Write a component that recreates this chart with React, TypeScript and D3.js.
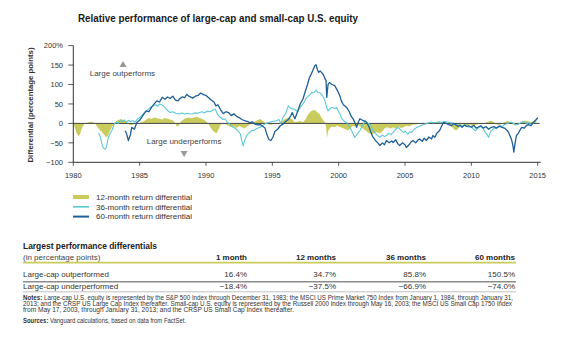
import React from 'react';
import * as d3 from 'd3';

// ---- Data (decimal year, percentage points) ----
const diff12: [number, number][] = [
  [1980.0, 0], [1980.1, -10], [1980.25, -25], [1980.4, -33], [1980.5, -28], [1980.65, -12], [1980.8, -3], [1980.9, 0],
  [1981.1, 2], [1981.3, 4], [1981.5, 3], [1981.65, 0], [1981.8, -8], [1981.95, -15], [1982.1, -20], [1982.3, -28],
  [1982.45, -35], [1982.6, -33], [1982.75, -20], [1982.9, -10], [1983.05, -3], [1983.2, 5], [1983.4, 9], [1983.6, 11],
  [1983.8, 8], [1984.0, 6], [1984.15, -2], [1984.35, -5], [1984.55, -2], [1984.75, 2], [1984.9, 0], [1985.1, 3],
  [1985.3, 5], [1985.5, 10], [1985.7, 14], [1985.9, 12], [1986.1, 15], [1986.3, 13], [1986.5, 12], [1986.7, 10],
  [1986.9, 14], [1987.1, 12], [1987.3, 10], [1987.5, 8], [1987.65, 2], [1987.8, -8], [1987.95, -6], [1988.1, 5],
  [1988.3, 10], [1988.5, 14], [1988.7, 15], [1988.9, 13], [1989.1, 16], [1989.3, 17], [1989.5, 14], [1989.7, 12],
  [1989.9, 8], [1990.1, 2], [1990.3, -8], [1990.5, -18], [1990.65, -23], [1990.8, -25], [1990.95, -15], [1991.1, -4],
  [1991.3, 2], [1991.5, -3], [1991.7, -6], [1991.9, -10], [1992.1, -8], [1992.3, -12], [1992.5, -7], [1992.7, -10],
  [1992.9, -13], [1993.1, -8], [1993.3, -3], [1993.5, 0], [1993.7, 5], [1993.9, 9], [1994.1, 11], [1994.3, 6],
  [1994.5, 0], [1994.7, -2], [1994.9, -4], [1995.1, 0], [1995.3, -3], [1995.5, 1], [1995.7, 4], [1995.9, 10],
  [1996.1, 13], [1996.3, 15], [1996.5, 10], [1996.7, 3], [1996.9, 5], [1997.1, 6], [1997.3, 3], [1997.5, 10],
  [1997.65, 20], [1997.8, 27], [1997.95, 32], [1998.1, 34.7], [1998.25, 33], [1998.4, 28], [1998.55, 25], [1998.7, 15],
  [1998.85, 8], [1998.97, 2], [1999.05, -10], [1999.12, -37.5], [1999.2, -20], [1999.35, -12], [1999.5, -8], [1999.7, -10],
  [1999.9, -6], [2000.1, -9], [2000.3, -12], [2000.5, -15], [2000.7, -18], [2000.9, -12], [2001.1, -6], [2001.3, -8],
  [2001.5, -4], [2001.7, -10], [2001.9, -15], [2002.1, -20], [2002.3, -25], [2002.5, -28], [2002.7, -25], [2002.9, -22],
  [2003.1, -26], [2003.3, -20], [2003.5, -12], [2003.7, -10], [2003.9, -14], [2004.1, -10], [2004.3, -13], [2004.5, -8],
  [2004.7, -12], [2004.9, -10], [2005.1, -6], [2005.3, -8], [2005.5, -5], [2005.7, -3], [2005.9, -2], [2006.1, 0],
  [2006.3, -2], [2006.5, -1], [2006.7, 2], [2006.9, 0], [2007.1, 2], [2007.3, 3], [2007.5, 4], [2007.7, 2],
  [2007.9, 3], [2008.1, 0], [2008.3, -3], [2008.5, -8], [2008.7, -15], [2008.85, -18], [2009.0, -14], [2009.15, -6],
  [2009.3, -2], [2009.5, -4], [2009.7, -6], [2009.9, -3], [2010.1, -8], [2010.3, -4], [2010.5, -2], [2010.7, 0],
  [2010.9, -3], [2011.1, 2], [2011.3, 5], [2011.5, 7], [2011.7, 3], [2011.9, -2], [2012.1, -5], [2012.3, 0],
  [2012.5, 3], [2012.7, 6], [2012.9, 4], [2013.1, -2], [2013.3, -5], [2013.5, -3], [2013.7, 2], [2013.9, 6],
  [2014.1, 7], [2014.3, 5], [2014.5, 3], [2014.7, 6], [2014.9, 4],
];

const diff36: [number, number][] = [
  [1981.9, -25], [1982.0, -31], [1982.1, -45], [1982.2, -58], [1982.3, -64], [1982.4, -66.9], [1982.5, -60], [1982.64, -36],
  [1982.75, -28], [1982.9, -19], [1983.0, -10], [1983.1, -1], [1983.25, 3], [1983.4, 0], [1983.5, 7], [1983.7, 5],
  [1983.85, 9], [1984.0, 3], [1984.15, 8], [1984.3, 5], [1984.5, 7], [1984.65, 3], [1984.8, 10], [1985.0, 15],
  [1985.2, 22], [1985.35, 28], [1985.5, 32], [1985.7, 38], [1985.85, 42], [1986.0, 45], [1986.2, 48], [1986.35, 44],
  [1986.5, 50], [1986.7, 47], [1986.9, 41], [1987.1, 33], [1987.3, 28], [1987.5, 30], [1987.7, 26], [1987.85, 25],
  [1988.0, 24], [1988.2, 27], [1988.4, 24], [1988.55, 26], [1988.8, 24], [1989.0, 25], [1989.2, 27], [1989.4, 26],
  [1989.5, 28], [1989.7, 30], [1989.9, 27], [1990.1, 32], [1990.3, 30], [1990.5, 34], [1990.7, 37], [1990.85, 25],
  [1991.0, 18], [1991.1, 15], [1991.3, 10], [1991.45, 12], [1991.6, 3], [1991.8, -2], [1992.05, -10], [1992.25, -14],
  [1992.45, -20], [1992.6, -28], [1992.7, -45], [1992.8, -58], [1992.9, -45], [1993.07, -31], [1993.25, -25], [1993.4, -19],
  [1993.6, -18], [1993.8, -14], [1994.07, -10], [1994.3, -5], [1994.5, 0], [1994.8, 3], [1995.0, 5], [1995.3, 7],
  [1995.5, 10], [1995.65, 0], [1995.8, 15], [1996.0, 25], [1996.2, 45], [1996.4, 38], [1996.6, 37], [1996.8, 33],
  [1996.9, 30], [1997.1, 41], [1997.3, 50], [1997.45, 58], [1997.6, 67], [1997.8, 72], [1997.97, 80], [1998.1, 78],
  [1998.3, 85.8], [1998.45, 80], [1998.6, 78], [1998.7, 75], [1998.85, 68], [1998.97, 58], [1999.1, 40], [1999.2, 32],
  [1999.35, 38], [1999.5, 41], [1999.7, 38], [1999.85, 41], [2000.0, 30], [2000.1, 24], [2000.2, 15], [2000.35, 8],
  [2000.5, 3], [2000.6, 3], [2000.8, -8], [2000.98, -19], [2001.1, -28], [2001.2, -36], [2001.35, -30], [2001.5, -22],
  [2001.6, -19], [2001.8, -5], [2002.0, 7], [2002.15, 2], [2002.35, -3], [2002.5, -12], [2002.7, -23], [2002.9, -30],
  [2003.1, -36], [2003.3, -30], [2003.45, -34], [2003.6, -31], [2003.8, -26], [2003.95, -28], [2004.1, -23], [2004.3, -15],
  [2004.5, -10], [2004.7, -18], [2004.9, -23], [2005.05, -20], [2005.2, -28], [2005.35, -22], [2005.5, -23], [2005.7, -15],
  [2005.9, -10], [2006.1, -8], [2006.25, -5], [2006.4, -3], [2006.6, -1], [2006.9, 3], [2007.1, 2], [2007.4, 3],
  [2007.6, 4], [2007.8, 2], [2008.0, 5], [2008.3, 3], [2008.6, 0], [2008.8, -3], [2009.0, -4], [2009.3, -6],
  [2009.5, -5], [2009.8, -10], [2010.0, -8], [2010.15, -15], [2010.3, -19], [2010.5, -12], [2010.65, -8], [2010.8, -10],
  [2011.0, -20], [2011.2, -30], [2011.3, -36], [2011.4, -25], [2011.5, -19], [2011.7, -12], [2011.85, -14], [2012.0, -10],
  [2012.2, -6], [2012.35, -8], [2012.5, -3], [2012.7, -1], [2012.85, 2], [2013.0, 3], [2013.2, 0], [2013.35, -4],
  [2013.5, -3], [2013.7, 1], [2013.85, 4], [2014.0, 3], [2014.2, 0], [2014.35, 2], [2014.5, -3], [2014.65, 0],
  [2014.8, 5], [2014.9, 11], [2015.0, 13],
];

const diff60: [number, number][] = [
  [1983.9, -19], [1984.0, -25], [1984.15, -44], [1984.3, -30], [1984.4, -10], [1984.6, -15], [1984.8, 3], [1985.0, 8],
  [1985.2, 18], [1985.4, 28], [1985.5, 32], [1985.7, 30], [1985.9, 42], [1986.1, 50], [1986.3, 58], [1986.5, 55],
  [1986.7, 67], [1986.9, 62], [1987.1, 68], [1987.3, 64], [1987.5, 70], [1987.7, 60], [1987.9, 58], [1988.0, 63],
  [1988.2, 68], [1988.4, 66], [1988.55, 75], [1988.7, 70], [1988.9, 67], [1989.0, 65], [1989.2, 70], [1989.4, 72],
  [1989.6, 78], [1989.8, 74], [1990.0, 72], [1990.2, 66], [1990.4, 60], [1990.6, 55], [1990.75, 45], [1990.9, 48],
  [1991.1, 35], [1991.3, 25], [1991.5, 30], [1991.7, 28], [1991.9, 20], [1992.1, 25], [1992.3, 18], [1992.5, 15],
  [1992.7, 10], [1992.9, 7], [1993.1, 5], [1993.3, 2], [1993.5, 4], [1993.7, -2], [1993.9, -4], [1994.1, -3],
  [1994.3, -8], [1994.45, -12], [1994.6, -30], [1994.75, -42], [1994.9, -44], [1995.05, -35], [1995.2, -20], [1995.4, -15],
  [1995.6, -6], [1995.8, -2], [1996.0, 5], [1996.2, 10], [1996.4, 20], [1996.5, 28], [1996.7, 12], [1996.9, 30],
  [1997.1, 50], [1997.3, 62], [1997.5, 84], [1997.65, 100], [1997.8, 118], [1997.95, 128], [1998.1, 140], [1998.2, 148],
  [1998.3, 150.5], [1998.4, 138], [1998.5, 131], [1998.6, 135], [1998.7, 131], [1998.85, 125], [1998.97, 115], [1999.05, 110],
  [1999.1, 67], [1999.2, 100], [1999.3, 105], [1999.5, 100], [1999.7, 97], [1999.85, 88], [1999.97, 80], [2000.1, 70],
  [2000.2, 58], [2000.35, 48], [2000.5, 44], [2000.6, 41], [2000.8, 30], [2000.95, 18], [2001.1, 11], [2001.25, 0],
  [2001.35, -10], [2001.5, 5], [2001.6, 12], [2001.8, 8], [2002.0, 5], [2002.1, 3], [2002.3, -10], [2002.45, -25],
  [2002.6, -36], [2002.8, -45], [2003.0, -52], [2003.1, -57], [2003.3, -50], [2003.45, -55], [2003.6, -44], [2003.8, -50],
  [2004.0, -45], [2004.1, -49], [2004.3, -42], [2004.45, -52], [2004.6, -57], [2004.8, -50], [2005.0, -55], [2005.1, -62],
  [2005.3, -55], [2005.45, -48], [2005.6, -44], [2005.8, -50], [2006.0, -42], [2006.1, -40], [2006.3, -46], [2006.45, -38],
  [2006.6, -44], [2006.8, -35], [2007.0, -40], [2007.1, -31], [2007.25, -36], [2007.4, -25], [2007.6, -19], [2007.75, -8],
  [2007.9, 3], [2008.1, 0], [2008.3, -3], [2008.5, -6], [2008.65, 0], [2008.8, -3], [2009.0, -8], [2009.15, -5],
  [2009.3, -10], [2009.5, -4], [2009.65, -8], [2009.8, -6], [2010.0, -10], [2010.2, -5], [2010.35, -12], [2010.5, -10],
  [2010.7, -6], [2010.9, -12], [2011.1, -8], [2011.3, -15], [2011.5, -10], [2011.7, -8], [2011.9, -12], [2012.1, -7],
  [2012.3, -10], [2012.5, -12], [2012.7, -18], [2012.8, -23], [2012.95, -35], [2013.05, -44], [2013.15, -60], [2013.2, -74],
  [2013.3, -50], [2013.4, -31], [2013.55, -25], [2013.7, -15], [2013.8, -10], [2014.0, -12], [2014.15, -5], [2014.3, -3],
  [2014.5, -6], [2014.65, 2], [2014.8, 7], [2014.9, 10], [2015.0, 15],
];

const xTicks = [1980, 1985, 1990, 1995, 2000, 2005, 2010, 2015];
const yTicks = [200, 150, 100, 50, 0, -50, -100];
const legendLabels = ['12-month return differential', '36-month return differential', '60-month return differential'];

const periodLabels = ['1 month', '12 months', '36 months', '60 months'];
const outperformed = [16.4, 34.7, 85.8, 150.5];
const underperformed = [-18.4, -37.5, -66.9, -74.0];

const notesLines = [
  'Large-cap U.S. equity is represented by the S&P 500 Index through December 31, 1983; the MSCI US Prime Market 750 Index from January 1, 1984, through January 31,',
  '2013; and the CRSP US Large Cap Index thereafter. Small-cap U.S. equity is represented by the Russell 2000 Index through May 16, 2003; the MSCI US Small Cap 1750 Index',
  'from May 17, 2003, through January 31, 2013; and the CRSP US Small Cap Index thereafter.',
];

// ---- Styles ----
const FONT = "Arial, 'Liberation Sans', Helvetica, sans-serif";
const NARROW = "'Liberation Sans Narrow', 'Arial Narrow', Arial, sans-serif";
const OLIVE = '#c9cc5c';
const CYAN = '#5cc8d6';
const BLUE = '#1f5f99';

const fmtPct = (v: number) => (v < 0 ? '\u2212' : '') + Math.abs(v).toFixed(1) + '%';

export default function App() {
  const x = d3.scaleLinear().domain([1980, 2015]).range([73.3, 537.7]);
  const y = d3.scaleLinear().domain([-100, 200]).range([162.3, 45.6]);

  const area = d3
    .area<[number, number]>()
    .x((d) => x(d[0]))
    .y0(y(0))
    .y1((d) => y(d[1]));
  const line = d3
    .line<[number, number]>()
    .x((d) => x(d[0]))
    .y((d) => y(d[1]));

  const legendColors = [OLIVE, CYAN, BLUE];
  const legendWidths = [4, 1.6, 2];
  const colRight = [247, 336, 426, 515];

  return (
    <svg
      width={565}
      height={349}
      style={{ position: 'absolute', left: 0, top: 0, background: '#fff' }}
      fontFamily={FONT}
    >
      <rect width={565} height={349} fill="#fff" />
      {/* Title */}
      <text x={78} y={22} fontSize={10.5} fontWeight={600} fill="#1a1a1a" textLength={280} lengthAdjust="spacingAndGlyphs">
        Relative performance of large-cap and small-cap U.S. equity
      </text>

      {/* Y axis label */}
      <text
        transform="translate(33,105) rotate(-90)"
        textAnchor="middle"
        fontSize={8}
        fontWeight={700}
        fill="#333"
        textLength={115}
        lengthAdjust="spacingAndGlyphs"
      >
        Differential (percentage points)
      </text>

      {/* 12-month area */}
      <path d={area(diff12) || ''} fill={OLIVE} stroke="none" />

      {/* Zero line */}
      <line x1={x(1980)} x2={x(2015) + 2} y1={y(0)} y2={y(0)} stroke="#444" strokeWidth={1} />

      {/* 36-month line */}
      <path d={line(diff36) || ''} fill="none" stroke={CYAN} strokeWidth={1.1} strokeLinejoin="round" />
      {/* 60-month line */}
      <path d={line(diff60) || ''} fill="none" stroke={BLUE} strokeWidth={1.3} strokeLinejoin="round" />

      {/* Y axis */}
      <line x1={x(1980)} x2={x(1980)} y1={y(200)} y2={y(-100)} stroke="#333" strokeWidth={1} />
      {yTicks.map((t) => (
        <g key={t}>
          <line x1={x(1980) - 5} x2={x(1980)} y1={y(t)} y2={y(t)} stroke="#333" strokeWidth={0.8} />
          <text x={63} y={y(t) + 2.7} fontSize={7.5} textAnchor="end" fill="#333">
            {t === 200 ? '200%' : t < 0 ? '\u2212' + Math.abs(t) : String(t)}
          </text>
        </g>
      ))}

      {/* X axis */}
      <line x1={x(1980)} x2={x(2015) + 3} y1={y(-100)} y2={y(-100)} stroke="#333" strokeWidth={1} />
      {xTicks.map((t) => (
        <g key={t}>
          <line x1={x(t)} x2={x(t)} y1={y(-100)} y2={y(-100) + 3.5} stroke="#333" strokeWidth={0.8} />
          <text x={x(t)} y={y(-100) + 15.5} fontSize={7.5} textAnchor="middle" fill="#333">
            {t}
          </text>
        </g>
      ))}

      {/* Annotations */}
      <path d={d3.symbol(d3.symbolTriangle, 22)() || ''} transform={`translate(${x(1983.75)},${y(150)})`} fill="#999" />
      <text x={x(1983.7)} y={y(128) + 2.8} fontSize={8} textAnchor="middle" fill="#444">
        Large outperforms
      </text>
      <path
        d={d3.symbol(d3.symbolTriangle, 22)() || ''}
        transform={`translate(${x(1988.35)},${y(-76)}) rotate(180)`}
        fill="#999"
      />
      <text x={x(1988.35)} y={y(-47) + 2.8} fontSize={8} textAnchor="middle" fill="#444">
        Large underperforms
      </text>

      {/* Legend */}
      {legendLabels.map((l, i) => (
        <g key={l}>
          <line x1={73} x2={89} y1={197 + i * 9.8} y2={197 + i * 9.8} stroke={legendColors[i]} strokeWidth={legendWidths[i]} />
          <text x={96} y={197 + i * 9.8 + 2.8} fontSize={8} fill="#333">
            {l}
          </text>
        </g>
      ))}

      {/* Table */}
      <text x={23} y={248.5} fontSize={9.2} fontWeight={600} fill="#222" textLength={134} lengthAdjust="spacingAndGlyphs">
        Largest performance differentials
      </text>
      <text x={23} y={259.8} fontSize={8} fill="#444">
        (in percentage points)
      </text>
      {periodLabels.map((p, i) => (
        <text key={p} x={colRight[i]} y={259.8} fontSize={8} fontWeight={600} textAnchor="end" fill="#222">
          {p}
        </text>
      ))}
      <line x1={23} x2={516} y1={262.6} y2={262.6} stroke={OLIVE} strokeWidth={1.8} />

      <text x={23} y={276.6} fontSize={8} fill="#333">
        Large-cap outperformed
      </text>
      {outperformed.map((v, i) => (
        <text key={i} x={colRight[i]} y={276.6} fontSize={8} textAnchor="end" fill="#333">
          {fmtPct(v)}
        </text>
      ))}
      <line x1={23} x2={516} y1={281.8} y2={281.8} stroke="#8c8c8c" strokeWidth={1.6} />

      <text x={23} y={288.6} fontSize={8} fill="#333">
        Large-cap underperformed
      </text>
      {underperformed.map((v, i) => (
        <text key={i} x={colRight[i]} y={288.6} fontSize={8} textAnchor="end" fill="#333">
          {fmtPct(v)}
        </text>
      ))}
      <line x1={23} x2={516} y1={291.8} y2={291.8} stroke="#b0b0b0" strokeWidth={0.8} />

      {/* Notes */}
      {notesLines.map((n, i) => (
        <text
          key={i}
          x={23}
          y={299.6 + i * 6.4}
          fontSize={6.3}
          fontFamily={NARROW}
          fill="#333"
          textLength={i === 0 ? 490 : i === 1 ? 489 : 271}
          lengthAdjust="spacingAndGlyphs"
        >
          {i === 0 ? (
            <>
              <tspan fontWeight={700} fontFamily={FONT}>Notes:</tspan> {n}
            </>
          ) : (
            n
          )}
        </text>
      ))}
      <text x={23} y={323.3} fontSize={6.3} fontFamily={NARROW} fill="#333" textLength={163} lengthAdjust="spacingAndGlyphs">
        <tspan fontWeight={700} fontFamily={FONT}>Sources:</tspan> Vanguard calculations, based on data from FactSet.
      </text>
    </svg>
  );
}
